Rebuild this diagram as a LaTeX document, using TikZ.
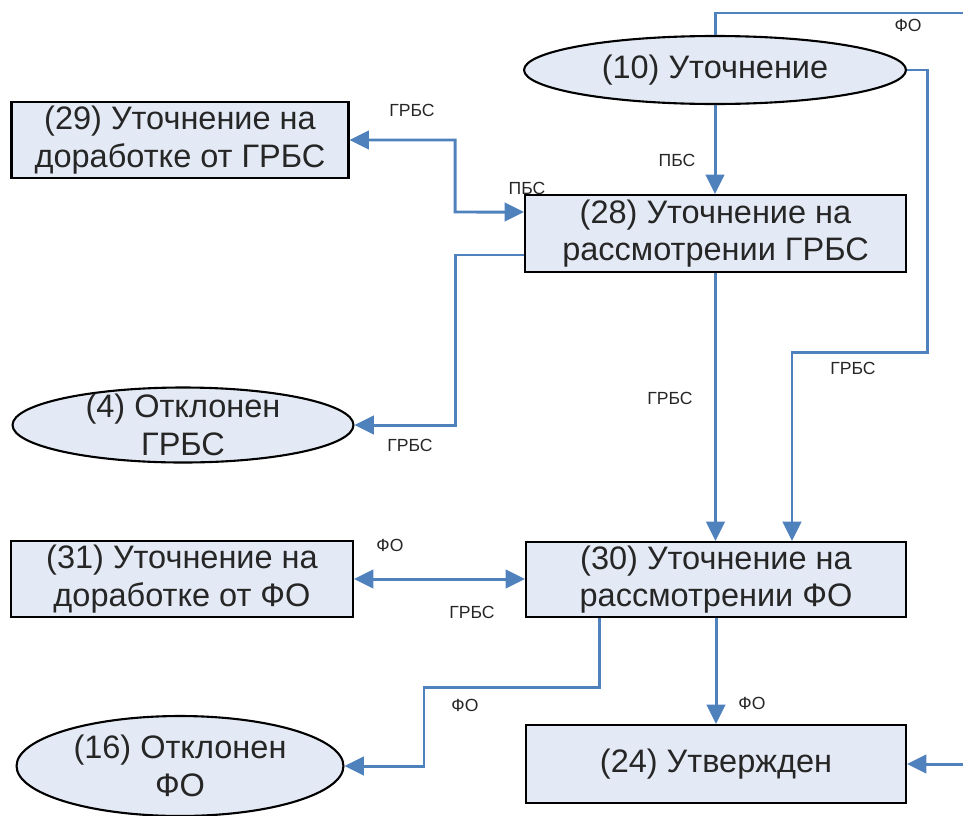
\documentclass[tikz,border=0pt]{standalone}
\usepackage{fontspec}
\setmainfont{Liberation Sans}
\usetikzlibrary{shapes.geometric,arrows.meta}

\definecolor{flowblue}{RGB}{79,129,189}
\definecolor{boxfill}{RGB}{228,234,245}

\begin{document}
\begin{tikzpicture}[x=0.02cm, y=-0.02cm,
    state/.style={draw=black, line width=1.2pt, fill=boxfill, inner sep=0pt,
                  align=center, text=black!85,
                  font=\fontsize{18.5}{21.5}\selectfont},
    stbox/.style={state, rectangle},
    stoval/.style={state, ellipse},
    flow/.style={draw=flowblue, line width=1.7pt},
    arr/.style={-{Triangle[length=11pt,width=10.5pt]}},
    dblarr/.style={{Triangle[length=11pt,width=10.5pt]}-{Triangle[length=11pt,width=10.5pt]}},
    lbl/.style={inner sep=0pt, text=black!85, font=\fontsize{10}{12}\selectfont}]
  \useasboundingbox (0,0) rectangle (963,815);

  \node[stoval, minimum width=7.64cm, minimum height=1.36cm] (e10) at (715,70) {(10) Уточнение};
  \node[stbox, minimum width=6.74cm, minimum height=1.52cm] (b29) at (180,140) {(29) Уточнение на\\доработке от ГРБС};
  \node[stbox, minimum width=7.62cm, minimum height=1.54cm] (b28) at (715.5,233.5) {(28) Уточнение на\\рассмотрении ГРБС};
  \node[stoval, inner ysep=-6pt, minimum width=6.82cm, minimum height=1.5cm] (e4) at (183,425) {(4) Отклонен\\ГРБС};
  \node[stbox, minimum width=6.84cm, minimum height=1.52cm] (b31) at (182,579) {(31) Уточнение на\\доработке от ФО};
  \node[stbox, minimum width=7.6cm, minimum height=1.5cm] (b30) at (716,579.5) {(30) Уточнение на\\рассмотрении ФО};
  \node[stoval, minimum width=6.54cm, minimum height=2cm] (e16) at (180,766) {(16) Отклонен\\ФО};
  \node[stbox, minimum width=7.6cm, minimum height=1.56cm] (b24) at (716,764) {(24) Утвержден};

  \coordinate (rT) at (963,13);
  \coordinate (rB) at (963,764);
  \coordinate (j1) at (927,352);
  \coordinate (j3) at (455,212);
  \coordinate (j4) at (455,425);
  \coordinate (j5) at (424,687);

  % connectors
  \draw[flow] (e10.north) |- (rT);
  \draw[flow,arr] (e10.east) -| (j1) -| ([xshift=1.52cm]b30.north);
  \draw[flow,arr] (e10.south) -- (e10.south |- b28.north);
  \draw[flow,dblarr] (b29.east) -| (j3) -- ([yshift=0.43cm]b28.west);
  \draw[flow,arr] ([yshift=-0.43cm]b28.west) -| (j4) -- (e4.east);
  \draw[flow,arr] (b28.south) -- (b28.south |- b30.north);
  \draw[flow,dblarr] (b31.east) -- (b31.east -| b30.west);
  \draw[flow,arr] ([xshift=-2.34cm]b30.south) |- (j5) |- (e16.east);
  \draw[flow,arr] (b30.south) -- (b24.north);
  \draw[flow,arr] (rB) -- (b24.east);

  % labels
  \node[lbl] (l1) at (908,25) {ФО};
  \node[lbl] (l2) at (677,160) {ПБС};
  \node[lbl] (l3) at (853,368) {ГРБС};
  \node[lbl] (l4) at (412,110) {ГРБС};
  \node[lbl] (l5) at (527,188) {ПБС};
  \node[lbl] (l6) at (410,445) {ГРБС};
  \node[lbl] (l7) at (670,398) {ГРБС};
  \node[lbl] (l8) at (390,545) {ФО};
  \node[lbl] (l9) at (472,612) {ГРБС};
  \node[lbl] (l10) at (465,705) {ФО};
  \node[lbl] (l11) at (752,703) {ФО};
\end{tikzpicture}
\end{document}
